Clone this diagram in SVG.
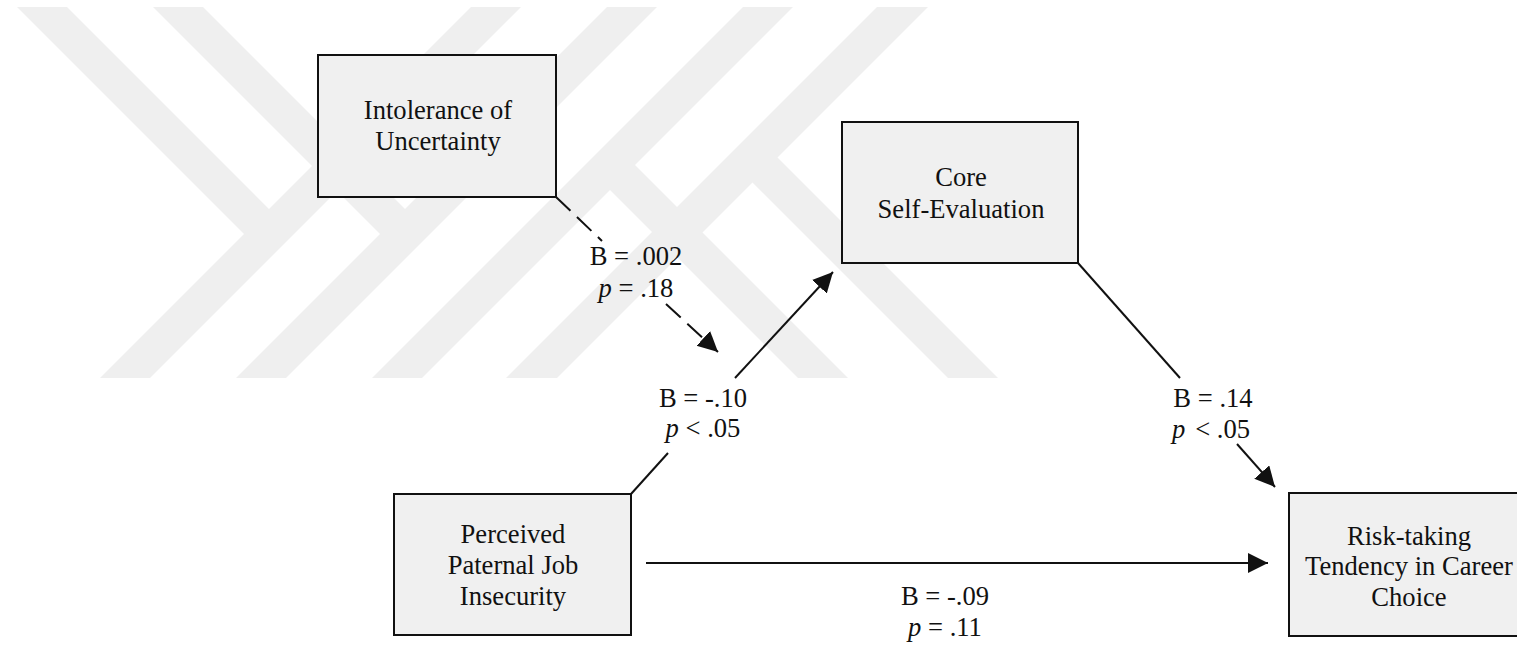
<svg xmlns="http://www.w3.org/2000/svg" width="1517" height="646" viewBox="0 0 1517 646">
  <style>
    .wm { fill: #efefef; }
    .box { fill: #f0f0f0; stroke: #111; stroke-width: 2; }
    .lbl { font-family: "Liberation Serif", "Times New Roman", serif; font-size: 26.6px; fill: #111; text-anchor: middle; }
    .edge { stroke: #111; stroke-width: 2; fill: none; }
    .dash { stroke-dasharray: 20 9; }
    .it { font-style: italic; }
  </style>
  <defs>
    <marker id="arrow" markerUnits="userSpaceOnUse" markerWidth="22" markerHeight="22" refX="20" refY="10" orient="auto">
      <path d="M0,0 L20,10 L0,20 z" fill="#111"/>
    </marker>
  </defs>

  <!-- background emblem: two upper-left forks and two lower-right forks -->
  <g id="emblem">
    <polygon class="wm" points="17,7 67,7 269,209 471,7 521,7 150,378 100,378 244,234"/>
    <polygon class="wm" points="17,7 67,7 269,209 471,7 521,7 150,378 100,378 244,234" transform="translate(136,0)"/>
    <polygon class="wm" points="743,7 793,7 635,165 848,378 798,378 610,190 422,378 372,378"/>
    <polygon class="wm" points="877,7 928,7 777.5,157.5 998,378 948,378 752.5,182.5 557,378 506,378"/>
  </g>

  <!-- connectors -->
  <g id="connectors">
    <line class="edge dash" x1="556" y1="197" x2="602" y2="241"/>
    <line class="edge dash" x1="666" y1="304" x2="718" y2="352" marker-end="url(#arrow)"/>
    <line class="edge" x1="631" y1="494" x2="668" y2="453"/>
    <line class="edge" x1="735" y1="378" x2="833" y2="272" marker-end="url(#arrow)"/>
    <line class="edge" x1="1078" y1="263" x2="1180" y2="378"/>
    <line class="edge" x1="1237" y1="444" x2="1275" y2="487" marker-end="url(#arrow)"/>
    <line class="edge" x1="646" y1="563" x2="1268" y2="563" marker-end="url(#arrow)"/>
  </g>

  <!-- edge labels -->
  <g id="edge-labels" class="lbl">
    <text x="636" y="265">B = .002</text>
    <text x="636" y="297"><tspan class="it">p</tspan> = .18</text>
    <text x="703" y="407">B = -.10</text>
    <text x="703" y="437"><tspan class="it">p</tspan> &lt; .05</text>
    <text x="1213" y="407">B = .14</text>
    <text x="1211" y="438"><tspan class="it">p</tspan><tspan dx="10">&lt; .05</tspan></text>
    <text x="945" y="605">B = -.09</text>
    <text x="945" y="636"><tspan class="it">p</tspan> = .11</text>
  </g>

  <!-- nodes -->
  <g id="intolerance">
    <rect class="box" x="318" y="55" width="238" height="142"/>
    <text class="lbl" x="438" y="119">Intolerance of</text>
    <text class="lbl" x="438" y="150">Uncertainty</text>
  </g>
  <g id="core-self-evaluation">
    <rect class="box" x="842" y="122" width="236" height="141"/>
    <text class="lbl" x="961" y="186">Core</text>
    <text class="lbl" x="961" y="218">Self-Evaluation</text>
  </g>
  <g id="paternal-job-insecurity">
    <rect class="box" x="394" y="494" width="237" height="141"/>
    <text class="lbl" x="513" y="543">Perceived</text>
    <text class="lbl" x="513" y="574">Paternal Job</text>
    <text class="lbl" x="513" y="605">Insecurity</text>
  </g>
  <g id="risk-taking">
    <rect class="box" x="1289" y="493" width="238" height="143"/>
    <text class="lbl" x="1409" y="545">Risk-taking</text>
    <text class="lbl" x="1409" y="575">Tendency in Career</text>
    <text class="lbl" x="1409" y="606">Choice</text>
  </g>
</svg>
